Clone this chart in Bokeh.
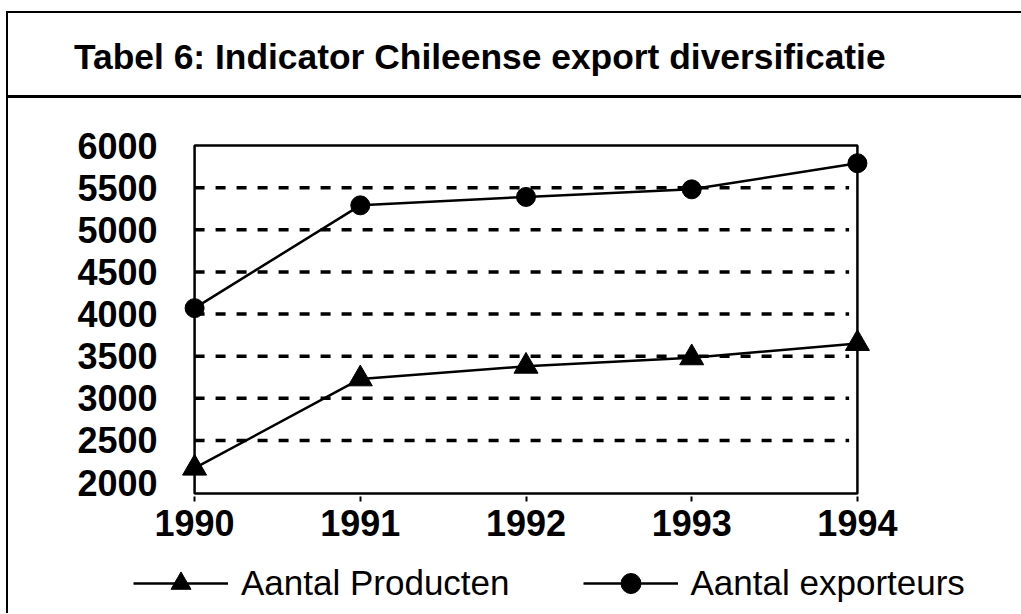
from bokeh.plotting import figure
from bokeh.layouts import column, row
from bokeh.models import (Range1d, FixedTicker, BoxAnnotation, Legend,
                          LegendItem, ColumnDataSource, Div)
from bokeh.embed import file_html
from bokeh.resources import INLINE

# ---- data ----
years = [1990, 1991, 1992, 1993, 1994]
producten = [2170, 3230, 3380, 3480, 3650]
exporteurs = [4070, 5290, 5390, 5480, 5790]
y_ticks = [2000, 2500, 3000, 3500, 4000, 4500, 5000, 5500, 6000]
grid_values = [2500, 3000, 3500, 4000, 4500, 5000, 5500]
title_text = "Tabel 6: Indicator Chileense export diversificatie"
legend_labels = ["Aantal Producten", "Aantal exporteurs"]

box_y_min, box_y_max = 1870, 6000
y_pad = 36
x_pad = 0.085
FONT = "Liberation Sans"

# ---- title strip with the outer box lines ----
title_div = Div(width=1021, height=98, margin=0, text=(
    '<div style="position:relative;width:1021px;height:98px;overflow:hidden">'
    '<div style="position:absolute;left:6px;top:11px;width:1030px;height:87px;'
    'box-sizing:border-box;border-top:2px solid #000;border-left:2px solid #000;'
    'border-bottom:3px solid #000"></div>'
    '<div style="position:absolute;left:74px;top:40px;white-space:nowrap;color:#000;'
    "font-family:'Liberation Sans',Arial,sans-serif;font-weight:bold;"
    'font-size:35.4px;line-height:35px">' + title_text + '</div></div>'))


def left_rule(h):
    return Div(width=8, height=h, margin=0, text=(
        '<div style="position:relative;width:8px;height:%dpx">'
        '<div style="position:absolute;left:6px;top:0;width:2px;height:%dpx;'
        'background:#000"></div></div>' % (h, h)))


# ---- chart ----
p = figure(width=1013, height=460,
           x_range=Range1d(years[0] - x_pad, years[-1] + x_pad),
           y_range=Range1d(box_y_min - y_pad, box_y_max + y_pad),
           min_border_left=172, min_border_right=150,
           min_border_top=44, min_border_bottom=62,
           output_backend="svg", toolbar_location=None)
p.background_fill_color = "white"
p.border_fill_color = "white"
p.outline_line_color = None
p.xgrid.visible = False
p.ygrid.visible = False

gsrc = ColumnDataSource(dict(x0=[years[0]] * len(grid_values),
                             x1=[years[-1] - 0.05] * len(grid_values),
                             y=grid_values))
p.segment(x0="x0", x1="x1", y0="y", y1="y", source=gsrc,
          line_color="black", line_width=3.5, line_dash="10 11")

p.add_layout(BoxAnnotation(left=years[0], right=years[-1],
                           top=box_y_max, bottom=box_y_min,
                           fill_alpha=0, line_color="black", line_alpha=1,
                           line_width=2.5))

p.line(years, producten, line_color="black", line_width=2.5)
p.scatter(years, producten, marker="triangle", size=24, color="black")
p.line(years, exporteurs, line_color="black", line_width=2.5)
p.scatter(years, exporteurs, marker="circle", size=19, color="black")

xa = p.xaxis[0]
xa.ticker = FixedTicker(ticks=years)
xa.axis_line_color = None
xa.major_tick_out = 5
xa.major_tick_in = 0
xa.major_tick_line_width = 2
xa.major_tick_line_color = "black"
xa.minor_tick_line_color = None
xa.major_label_standoff = 8
xa.major_label_text_font = FONT
xa.major_label_text_font_style = "bold"
xa.major_label_text_font_size = "36px"
xa.major_label_text_color = "black"

ya = p.yaxis[0]
ya.ticker = FixedTicker(ticks=y_ticks)
ya.axis_line_color = None
ya.major_tick_out = 0
ya.major_tick_in = 0
ya.minor_tick_line_color = None
ya.major_label_standoff = 23
ya.major_label_text_font = FONT
ya.major_label_text_font_style = "bold"
ya.major_label_text_font_size = "36px"
ya.major_label_text_color = "black"

# ---- legend strip (its own canvas so nothing is clipped) ----
lf = figure(width=1013, height=55, x_range=Range1d(0, 1), y_range=Range1d(0, 1),
            x_axis_location=None, y_axis_location=None,
            min_border_left=0, min_border_right=0, min_border_top=0,
            min_border_bottom=0, output_backend="svg", toolbar_location=None)
lf.outline_line_color = None
lf.xgrid.visible = False
lf.ygrid.visible = False
for fig in (p, lf):
    try:
        fig.frame_align = False
    except Exception:
        pass
# series renderers for the legend keys (their data lie outside this strip's view)
k1 = lf.line(years, producten, line_color="black", line_width=2.5)
m1 = lf.scatter(years, producten, marker="triangle", size=24, color="black")
k2 = lf.line(years, exporteurs, line_color="black", line_width=2.5)
m2 = lf.scatter(years, exporteurs, marker="circle", size=19, color="black")

legend = Legend(items=[LegendItem(label=legend_labels[0], renderers=[k1, m1]),
                       LegendItem(label=legend_labels[1], renderers=[k2, m2])],
                orientation="horizontal", location=(125, 5),
                glyph_width=95, glyph_height=50, label_standoff=13, spacing=73,
                padding=0, margin=0, border_line_alpha=0, background_fill_alpha=0,
                label_text_font=FONT, label_text_font_size="35px",
                label_text_color="black")
lf.add_layout(legend)

layout = column(title_div,
                row(left_rule(460), p, spacing=0),
                row(left_rule(55), lf, spacing=0),
                spacing=0)
open("out.html", "w").write(file_html(layout, INLINE))
